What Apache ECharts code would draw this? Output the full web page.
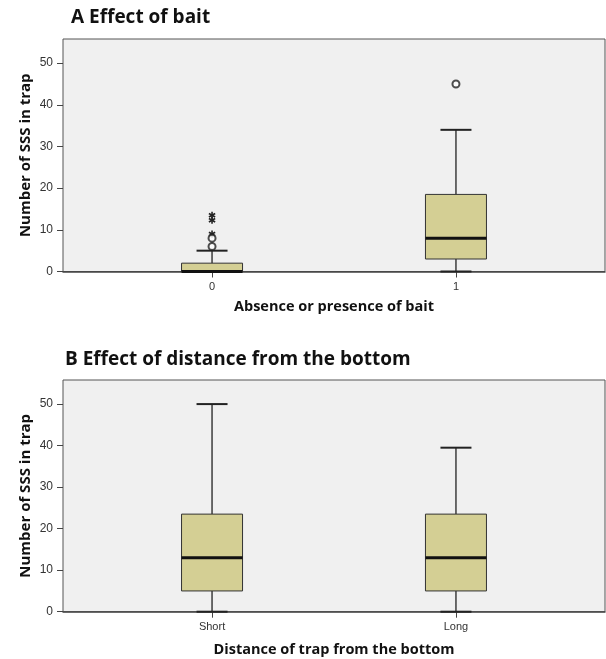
<!DOCTYPE html>
<html lang="en">
<head>
    <title>Number of SSS in trap</title>
    <meta charset="utf-8" />
    <script src="https://cdn.jsdelivr.net/npm/echarts@6/dist/echarts.min.js"></script>
    <style>
        body { margin: 0; background-color: #ffffff; }
        #main { width: 606px; height: 659px; }
    </style>
</head>
<body>
<div id="main"></div>
<script>
    // panel A: bait
    let categoriesA = ['0', '1']
    // [x, min, q1, median, q3, max]
    let boxA = [
        [0, 0, 0, 0, 2, 5],
        [1, 0, 3, 8, 18.5, 34]
    ]
    let outliersA = [[0, 6], [0, 8], [1, 45]]
    let extremesA = [[0, 9], [0, 12.3], [0, 13.5]]

    // panel B: distance from bottom
    let categoriesB = ['Short', 'Long']
    let boxB = [
        [0, 0, 5, 13, 23.5, 50],
        [1, 0, 5, 13, 23.5, 39.5]
    ]

    let yTicks = [0, 10, 20, 30, 40, 50]

    let boxColor = '#d4cf94'
    let lineColor = '#222222'
    let titleFont = 'Open Sans'
    let tickFont = 'Liberation Sans Narrow, Liberation Sans, sans-serif'

    let chart = echarts.init(document.getElementById('main'))

    function renderBox(params, api) {
        let x = api.value(0)
        let lo = api.coord([x, api.value(1)])
        let q1 = api.coord([x, api.value(2)])
        let med = api.coord([x, api.value(3)])
        let q3 = api.coord([x, api.value(4)])
        let hi = api.coord([x, api.value(5)])
        let half = 30.5
        let cap = 15.5
        let st = { stroke: lineColor, lineWidth: 1.3 }
        return {
            type: 'group',
            children: [
                { type: 'line', shape: { x1: lo[0], y1: lo[1], x2: q1[0], y2: q1[1] }, style: st },
                { type: 'line', shape: { x1: q3[0], y1: q3[1], x2: hi[0], y2: hi[1] }, style: st },
                { type: 'line', shape: { x1: lo[0] - cap, y1: lo[1], x2: lo[0] + cap, y2: lo[1] }, style: { stroke: lineColor, lineWidth: 2 } },
                { type: 'line', shape: { x1: hi[0] - cap, y1: hi[1], x2: hi[0] + cap, y2: hi[1] }, style: { stroke: lineColor, lineWidth: 2 } },
                { type: 'rect', shape: { x: q3[0] - half, y: q3[1], width: half * 2, height: q1[1] - q3[1] },
                    style: { fill: boxColor, stroke: '#333333', lineWidth: 1 } },
                { type: 'line', shape: { x1: med[0] - half, y1: med[1], x2: med[0] + half, y2: med[1] }, style: { stroke: '#111111', lineWidth: 3 } }
            ]
        }
    }

    function renderStar(params, api) {
        let p = api.coord([api.value(0), api.value(1)])
        let r = 3.6
        let kids = []
        for (let a = 0; a < 3; a++) {
            let t = Math.PI / 2 + a * Math.PI / 3
            kids.push({
                type: 'line',
                shape: { x1: p[0] - r * Math.cos(t), y1: p[1] - r * Math.sin(t), x2: p[0] + r * Math.cos(t), y2: p[1] + r * Math.sin(t) },
                style: { stroke: '#222222', lineWidth: 1.6 }
            })
        }
        return { type: 'group', children: kids }
    }

    function xAxisOf(idx, cats, name, gap) {
        return {
            type: 'value',
            gridIndex: idx,
            min: -0.611,
            max: 1.611,
            axisLine: { show: true, onZero: false, lineStyle: { color: '#444444', width: 1.5 } },
            axisTick: { show: true, length: 6, customValues: [0, 1], lineStyle: { color: '#444444' } },
            axisLabel: {
                customValues: [0, 1],
                margin: 10,
                color: '#333333',
                fontFamily: tickFont,
                fontSize: 11,
                formatter: function (v) { return cats[Math.round(v)] }
            },
            splitLine: { show: false },
            name: name,
            nameLocation: 'middle',
            nameGap: gap,
            nameTextStyle: { fontFamily: titleFont, fontWeight: 'bold', fontSize: 14.5, color: '#111111' }
        }
    }

    function yAxisOf(idx) {
        return {
            type: 'value',
            gridIndex: idx,
            min: 0,
            max: 55.8,
            axisLine: { show: false, onZero: false },
            axisTick: { show: true, length: 6, customValues: yTicks, lineStyle: { color: '#444444' } },
            axisLabel: {
                customValues: yTicks,
                margin: 10,
                color: '#333333',
                fontFamily: tickFont,
                fontSize: 12
            },
            splitLine: { show: false },
            name: 'Number of SSS in trap',
            nameLocation: 'middle',
            nameGap: 30,
            nameMoveOverlap: false,
            nameTextStyle: { fontFamily: titleFont, fontWeight: 'bold', fontSize: 15, color: '#111111' }
        }
    }

    chart.setOption({
        animation: false,
        title: [
            { text: 'A Effect of bait', left: 66, top: 3,
                textStyle: { fontFamily: titleFont, fontWeight: 'bold', fontSize: 19, color: '#111111' } },
            { text: 'B Effect of distance from the bottom', left: 60, top: 345,
                textStyle: { fontFamily: titleFont, fontWeight: 'bold', fontSize: 19, color: '#111111' } }
        ],
        grid: [
            { left: 63, top: 39, width: 542, height: 232.5, show: true, backgroundColor: '#f0f0f0', borderColor: '#555555', borderWidth: 1 },
            { left: 63, top: 380, width: 542, height: 231.7, show: true, backgroundColor: '#f0f0f0', borderColor: '#555555', borderWidth: 1 }
        ],
        xAxis: [
            xAxisOf(0, categoriesA, 'Absence or presence of bait', 28),
            xAxisOf(1, categoriesB, 'Distance of trap from the bottom', 31)
        ],
        yAxis: [yAxisOf(0), yAxisOf(1)],
        series: [
            { type: 'custom', xAxisIndex: 0, yAxisIndex: 0, renderItem: renderBox, data: boxA, clip: false },
            { type: 'scatter', xAxisIndex: 0, yAxisIndex: 0, data: outliersA, symbol: 'emptyCircle', symbolSize: 7,
                itemStyle: { color: '#222222', borderWidth: 1.6 } },
            { type: 'custom', xAxisIndex: 0, yAxisIndex: 0, renderItem: renderStar, data: extremesA },
            { type: 'custom', xAxisIndex: 1, yAxisIndex: 1, renderItem: renderBox, data: boxB, clip: false }
        ]
    })
</script>
</body>
</html>
